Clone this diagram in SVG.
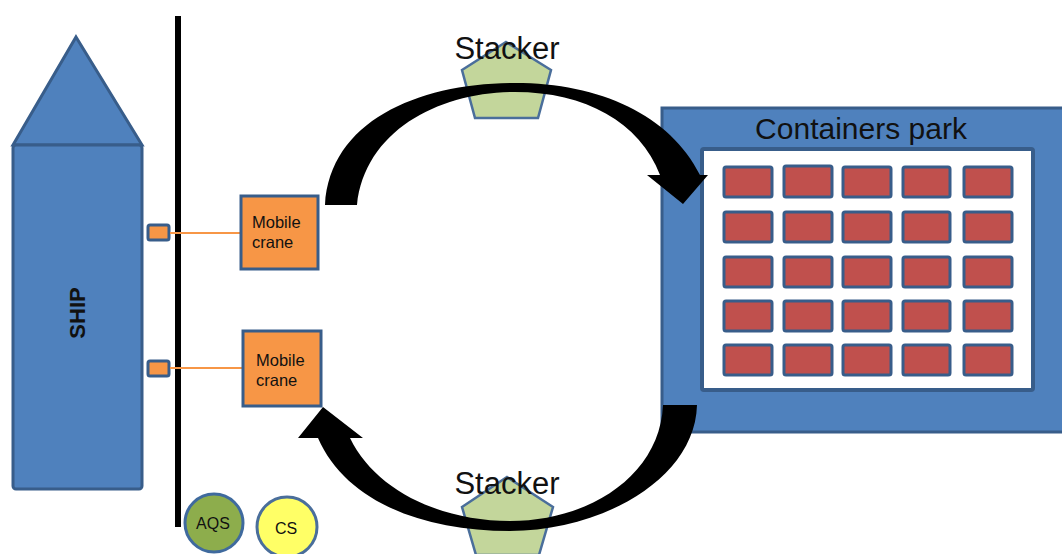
<svg xmlns="http://www.w3.org/2000/svg" width="1062" height="554" viewBox="0 0 1062 554">
<style>
.blue{fill:#4F81BD;stroke:#385D8A;stroke-width:3}
.orange{fill:#F79646;stroke:#385D8A;stroke-width:3}
.cont{fill:#C0504D;stroke:#385D8A;stroke-width:3}
.stk{fill:#C3D69B;stroke:#4A6E9B;stroke-width:2.5}
.t{font-family:"Liberation Sans",Arial,sans-serif;fill:#111}
.lnk{stroke:#F79646;stroke-width:2;fill:none}
.arr{fill:#000}
</style>
<rect width="1062" height="554" fill="#fff"/>
<g id="ship">
<polygon class="blue" points="76,37 142,145 13,145"/>
<rect class="blue" x="13" y="145" width="129" height="344" rx="3"/>
<text class="t" font-size="22" font-weight="bold" text-anchor="middle" transform="translate(85,313) rotate(-90)">SHIP</text>
</g>
<g id="quay">
<rect x="175" y="16" width="6" height="511" fill="#000"/>
</g>
<g id="port1"><rect class="orange" x="148" y="225" width="21" height="15" rx="2"/></g>
<g id="port2"><rect class="orange" x="148" y="361" width="21" height="15" rx="2"/></g>
<g id="links">
<line class="lnk" x1="170" y1="233" x2="242" y2="233"/>
<line class="lnk" x1="170" y1="368" x2="243" y2="368"/>
</g>
<g id="crane1">
<rect class="orange" x="241" y="196" width="77" height="73"/>
<text class="t" font-size="16.5" x="252" y="228">Mobile</text>
<text class="t" font-size="16.5" x="252" y="248">crane</text>
</g>
<g id="crane2">
<rect class="orange" x="243" y="331" width="78" height="75"/>
<text class="t" font-size="16.5" x="256" y="366">Mobile</text>
<text class="t" font-size="16.5" x="256" y="386">crane</text>
</g>
<g id="aqs">
<circle cx="214" cy="523" r="29" fill="#8DAD4C" stroke="#3F6A9E" stroke-width="3"/>
<text class="t" font-size="16" text-anchor="middle" x="213" y="529">AQS</text>
</g>
<g id="cs">
<circle cx="287" cy="527" r="30" fill="#FFFF66" stroke="#4A6E9B" stroke-width="3"/>
<text class="t" font-size="16" text-anchor="middle" x="286" y="534">CS</text>
</g>
<g id="park">
<rect class="blue" x="662" y="108" width="410" height="324"/>
<rect x="702" y="149" width="331" height="241" fill="#fff" stroke="#385D8A" stroke-width="4" rx="2"/>
<text class="t" font-size="30" text-anchor="middle" x="861" y="139">Containers park</text>
<g id="containers">
<rect class="cont" x="724" y="167" width="48" height="30" rx="2"/>
<rect class="cont" x="784" y="166" width="48" height="31" rx="2"/>
<rect class="cont" x="843" y="167" width="48" height="30" rx="2"/>
<rect class="cont" x="903" y="167" width="47" height="30" rx="2"/>
<rect class="cont" x="964" y="167" width="48" height="30" rx="2"/>
<rect class="cont" x="724" y="212" width="48" height="30" rx="2"/>
<rect class="cont" x="784" y="212" width="48" height="30" rx="2"/>
<rect class="cont" x="843" y="212" width="48" height="30" rx="2"/>
<rect class="cont" x="903" y="212" width="47" height="30" rx="2"/>
<rect class="cont" x="964" y="212" width="48" height="30" rx="2"/>
<rect class="cont" x="724" y="257" width="48" height="30" rx="2"/>
<rect class="cont" x="784" y="257" width="48" height="30" rx="2"/>
<rect class="cont" x="843" y="257" width="48" height="30" rx="2"/>
<rect class="cont" x="903" y="257" width="47" height="30" rx="2"/>
<rect class="cont" x="964" y="257" width="48" height="30" rx="2"/>
<rect class="cont" x="724" y="301" width="48" height="30" rx="2"/>
<rect class="cont" x="784" y="301" width="48" height="30" rx="2"/>
<rect class="cont" x="843" y="301" width="48" height="30" rx="2"/>
<rect class="cont" x="903" y="301" width="47" height="30" rx="2"/>
<rect class="cont" x="964" y="301" width="48" height="30" rx="2"/>
<rect class="cont" x="724" y="345" width="48" height="30" rx="2"/>
<rect class="cont" x="784" y="345" width="48" height="30" rx="2"/>
<rect class="cont" x="843" y="345" width="48" height="30" rx="2"/>
<rect class="cont" x="903" y="345" width="47" height="30" rx="2"/>
<rect class="cont" x="964" y="345" width="48" height="30" rx="2"/>
</g>
</g>
<g id="stacker1">
<polygon class="stk" points="506,42 551,70 538,118 475,118 462,70"/>
<text class="t" font-size="31" text-anchor="middle" x="507" y="59">Stacker</text>
</g>
<g id="stacker2">
<polygon class="stk" points="507,477 553,507 539,555 476,555 462,507"/>
<text class="t" font-size="31" text-anchor="middle" x="507" y="494">Stacker</text>
</g>
<g id="connectors">
<path class="arr" d="M325,205 C330,120 420,83 515,83 C600,83 670,115 700,175 L708,175 L683,204 L647,175 L660,175 C640,122 585,92 515,92 C440,92 365,130 357,205 Z"/>
<path class="arr" d="M697,405 C695,480 600,531 510,531 C420,531 345,500 318,438 L298,438 L323,407 L363,438 L350,438 C375,490 440,521 510,521 C590,521 660,475 663,405 Z"/>
</g>
</svg>
